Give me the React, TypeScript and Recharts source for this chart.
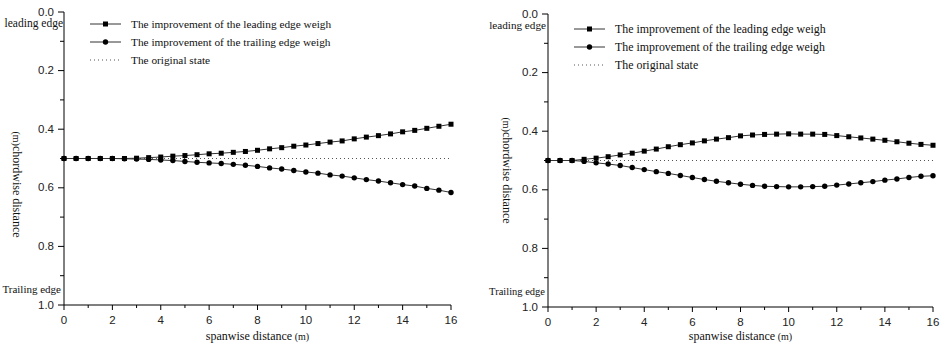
import { LineChart, Line, XAxis, YAxis, Legend } from 'recharts';

const SERIF = '"Liberation Serif", "Times New Roman", serif';
const SANS = '"Liberation Sans", Arial, sans-serif';

// spanwise stations (m), every 0.5 m
const spanwise = [
  0, 0.5, 1, 1.5, 2, 2.5, 3, 3.5, 4, 4.5, 5, 5.5, 6, 6.5, 7, 7.5, 8,
  8.5, 9, 9.5, 10, 10.5, 11, 11.5, 12, 12.5, 13, 13.5, 14, 14.5, 15, 15.5, 16,
];

// left panel: linear-ish improvement
const leftLeading = [
  0.5, 0.5, 0.5, 0.5, 0.5, 0.5, 0.499, 0.497, 0.495, 0.492, 0.49, 0.487, 0.484, 0.482, 0.479, 0.476, 0.472,
  0.467, 0.463, 0.458, 0.454, 0.449, 0.444, 0.44, 0.433, 0.427, 0.422, 0.416, 0.409, 0.404, 0.397, 0.39, 0.383,
];
const leftTrailing = [
  0.5, 0.5, 0.5, 0.5, 0.5, 0.501, 0.502, 0.503, 0.505, 0.507, 0.51, 0.513, 0.515, 0.517, 0.52, 0.523, 0.527,
  0.532, 0.536, 0.541, 0.546, 0.55, 0.556, 0.56, 0.566, 0.572, 0.577, 0.583, 0.589, 0.594, 0.602, 0.608, 0.616,
];

// right panel: wave-shaped improvement
const rightLeading = [
  0.5, 0.5, 0.5, 0.496, 0.492, 0.487, 0.481, 0.475, 0.468, 0.461, 0.453, 0.446, 0.44, 0.433, 0.427, 0.422, 0.416,
  0.413, 0.411, 0.41, 0.409, 0.41, 0.41, 0.411, 0.415, 0.419, 0.423, 0.427, 0.431, 0.436, 0.441, 0.445, 0.448,
];
const rightTrailing = [
  0.5, 0.5, 0.5, 0.503, 0.508, 0.512, 0.517, 0.524, 0.531, 0.538, 0.544, 0.551, 0.558, 0.565, 0.571, 0.576, 0.581,
  0.585, 0.588, 0.589, 0.59, 0.59, 0.589, 0.588, 0.584, 0.58, 0.576, 0.572, 0.567, 0.563, 0.558, 0.554, 0.552,
];

const originalX = [0, 16];
const originalY = [0.5, 0.5];

const xTicks = [0, 1, 2, 3, 4, 5, 6, 7, 8, 9, 10, 11, 12, 13, 14, 15, 16];
const yTicks = [0, 0.1, 0.2, 0.3, 0.4, 0.5, 0.6, 0.7, 0.8, 0.9, 1];

const legendLabels = [
  'The improvement of the leading edge weigh',
  'The improvement of the trailing edge weigh',
  'The original state',
];

const originalData = originalX.map((s, i) => ({ s, original: originalY[i] }));

const buildRows = (leading: number[], trailing: number[]) =>
  spanwise.map((s, i) => ({ s, leading: leading[i], trailing: trailing[i] }));

const SquareDot = ({ cx, cy }: any) => {
  if (cx == null || cy == null) return null;
  return <rect x={cx - 2.5} y={cy - 2.5} width={5} height={5} fill="#000" />;
};

const RoundDot = ({ cx, cy }: any) => {
  if (cx == null || cy == null) return null;
  return <circle cx={cx} cy={cy} r={2.7} fill="#000" />;
};

const XTick = ({ x, y, payload }: any) => {
  const major = payload.value % 2 === 0;
  return (
    <g>
      <line x1={x} x2={x} y1={y} y2={y + (major ? 5 : 3)} stroke="#000" />
      {major && (
        <text x={x} y={y + 19} textAnchor="middle" fontFamily={SANS} fontSize={11.5} fill="#222">
          {payload.value}
        </text>
      )}
    </g>
  );
};

const YTick = ({ x, y, payload, leadGap = 1, leadFont = 11.5, trailFont = 11 }: any) => {
  const tenth = Math.round(payload.value * 10);
  const major = tenth % 2 === 0;
  return (
    <g>
      <line x1={x - (major ? 6 : 4)} x2={x} y1={y} y2={y} stroke="#000" />
      {major && (
        <text x={x - 10} y={y} dy={3.5} textAnchor="end" fontFamily={SANS} fontSize={11.5} fill="#222">
          {payload.value.toFixed(1)}
        </text>
      )}
      {tenth === 0 && (
        <text x={x - leadGap} y={y + 15} textAnchor="end" fontFamily={SERIF} fontSize={leadFont} fill="#111">
          leading edge
        </text>
      )}
      {tenth === 10 && (
        <text x={x - 3} y={y - 12} textAnchor="end" fontFamily={SERIF} fontSize={trailFont} fill="#111">
          Trailing edge
        </text>
      )}
    </g>
  );
};

const YTitle = ({ viewBox, cx, dy }: any) => {
  const px = viewBox.x + cx;
  const py = viewBox.y + viewBox.height / 2 + dy;
  return (
    <text
      x={px}
      y={py}
      transform={`rotate(90 ${px} ${py})`}
      textAnchor="middle"
      dominantBaseline="central"
      fontFamily={SERIF}
      fontSize={12}
      fill="#111"
    >
      <tspan fontSize={10}>(m)</tspan>
      <tspan>chordwise distance</tspan>
    </text>
  );
};

const XTitle = ({ viewBox, dy }: any) => (
  <text
    x={viewBox.x + viewBox.width / 2}
    y={viewBox.y + dy}
    textAnchor="middle"
    fontFamily={SERIF}
    fontSize={12}
    fill="#111"
  >
    spanwise distance
    <tspan fontSize={10}> (m)</tspan>
  </text>
);

const LegendBox = ({ fontSize }: any) => (
  <div style={{ fontFamily: SERIF, fontSize, color: '#111' }}>
    {legendLabels.map((label, i) => (
      <div key={label} style={{ display: 'flex', alignItems: 'center', height: 18, whiteSpace: 'nowrap' }}>
        <svg width={31} height={18} style={{ marginRight: 10 }}>
          {i < 2 ? (
            <>
              <line x1={0} x2={31} y1={9} y2={9} stroke="#333" strokeWidth={1} />
              {i === 0 ? (
                <rect x={13} y={6.5} width={5} height={5} fill="#000" />
              ) : (
                <circle cx={15.5} cy={9} r={2.7} fill="#000" />
              )}
            </>
          ) : (
            <line x1={0} x2={31} y1={9} y2={9} stroke="#555" strokeWidth={1} strokeDasharray="1 3" />
          )}
        </svg>
        <span>{label}</span>
      </div>
    ))}
  </div>
);

interface PanelProps {
  leading: number[];
  trailing: number[];
  margin: { top: number; right: number; left: number; bottom: number };
  yWidth: number;
  xHeight: number;
  legendPos: { left: number; top: number };
  legendFont: number;
  titleX: number;
  titleDy: number;
  xTitleDy: number;
  leadGap: number;
  leadFont: number;
  trailFont: number;
}

function Panel(p: PanelProps) {
  const rows = buildRows(p.leading, p.trailing);
  return (
    <LineChart width={470} height={344} data={rows} margin={p.margin}>
      <XAxis
        type="number"
        dataKey="s"
        domain={[0, 16]}
        ticks={xTicks}
        interval={0}
        tick={<XTick />}
        tickLine={false}
        tickSize={0}
        tickMargin={0}
        axisLine={{ stroke: '#000' }}
        height={p.xHeight}
        label={<XTitle dy={p.xTitleDy} />}
      />
      <YAxis
        type="number"
        domain={[0, 1]}
        reversed
        ticks={yTicks}
        interval={0}
        tick={<YTick leadGap={p.leadGap} leadFont={p.leadFont} trailFont={p.trailFont} />}
        tickLine={false}
        tickSize={0}
        tickMargin={0}
        axisLine={{ stroke: '#000' }}
        width={p.yWidth}
        label={<YTitle cx={p.titleX} dy={p.titleDy} />}
      />
      <Legend
        layout="vertical"
        align="center"
        verticalAlign="middle"
        wrapperStyle={{ left: p.legendPos.left, top: p.legendPos.top, width: 360 }}
        content={<LegendBox fontSize={p.legendFont} />}
      />
      <Line
        data={originalData}
        dataKey="original"
        stroke="#555"
        strokeWidth={1}
        strokeDasharray="1 3"
        dot={false}
        activeDot={false}
        isAnimationActive={false}
      />
      <Line
        dataKey="leading"
        stroke="#333"
        strokeWidth={1}
        dot={<SquareDot />}
        activeDot={false}
        isAnimationActive={false}
      />
      <Line
        dataKey="trailing"
        stroke="#333"
        strokeWidth={1}
        dot={<RoundDot />}
        activeDot={false}
        isAnimationActive={false}
      />
    </LineChart>
  );
}

export default function App() {
  return (
    <div style={{ position: 'absolute', left: 0, top: 0, width: 940, height: 344, display: 'flex', background: '#fff' }}>
      <Panel
        leading={leftLeading}
        trailing={leftTrailing}
        margin={{ top: 12, right: 19, left: 0, bottom: 0 }}
        yWidth={64}
        xHeight={39}
        legendPos={{ left: 90, top: 15 }}
        legendFont={11.3}
        titleX={17}
        titleDy={26}
        xTitleDy={35}
        leadGap={1}
        leadFont={11.5}
        trailFont={11}
      />
      <Panel
        leading={rightLeading}
        trailing={rightTrailing}
        margin={{ top: 14, right: 7, left: 0, bottom: 0 }}
        yWidth={78}
        xHeight={37}
        legendPos={{ left: 104, top: 20 }}
        legendFont={11.9}
        titleX={37}
        titleDy={10}
        xTitleDy={33}
        leadGap={2}
        leadFont={11.2}
        trailFont={10.5}
      />
    </div>
  );
}
